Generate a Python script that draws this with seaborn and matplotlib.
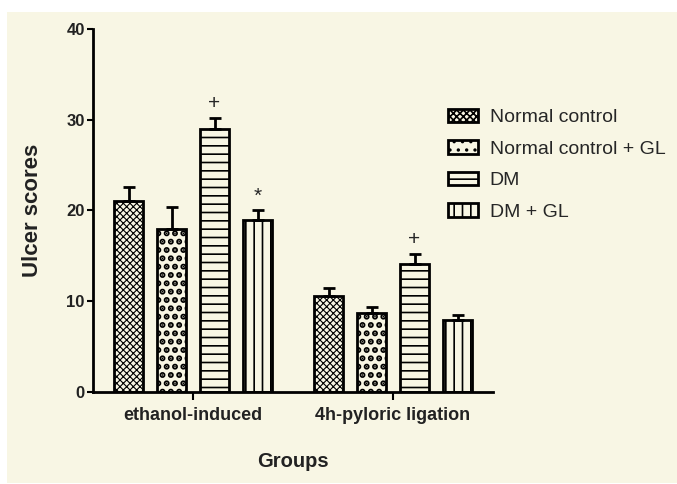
import pandas as pd
import matplotlib.pyplot as plt
from matplotlib.patches import Rectangle
import seaborn as sns

groups = ["ethanol-induced", "4h-pyloric ligation"]
treatments = ["Normal control", "Normal control + GL", "DM", "DM + GL"]

# mean ulcer score, one value per group
normal_control = [21.0, 10.6]
normal_control_gl = [18.0, 8.7]
dm = [29.0, 14.1]
dm_gl = [19.0, 7.9]

# upper error bar (SEM)
normal_control_err = [1.6, 0.9]
normal_control_gl_err = [2.4, 0.7]
dm_err = [1.2, 1.1]
dm_gl_err = [1.0, 0.6]

# significance marks: (group index, treatment index, symbol)
marks = [(0, 2, "+"), (0, 3, "*"), (1, 2, "+")]

means = [normal_control, normal_control_gl, dm, dm_gl]
errs = [normal_control_err, normal_control_gl_err, dm_err, dm_gl_err]

rows = []
for t, vals in zip(treatments, means):
    for g, v in zip(groups, vals):
        rows.append({"group": g, "treatment": t, "score": v})
df = pd.DataFrame(rows)

sns.set_style("ticks")
plt.rcParams["font.family"] = ["Liberation Sans", "DejaVu Sans"]
plt.rcParams["hatch.linewidth"] = 1.2

cream = "#F8F6E4"
fig = plt.figure(figsize=(6.77, 4.84), dpi=100, facecolor="white")
fig.patches.append(Rectangle((7 / 677, 1 / 484), 1 - 7 / 677, 471 / 484,
                             transform=fig.transFigure, facecolor=cream,
                             edgecolor="none", zorder=-10))
ax = fig.add_axes([93 / 677, 1 - 392 / 484, 400 / 677, 363 / 484])
ax.set_facecolor("none")

sns.barplot(data=df, x="group", y="score", hue="treatment", order=groups,
            hue_order=treatments, palette=[cream] * 4, saturation=1,
            errorbar=None, width=0.86, gap=0.33, edgecolor="black",
            linewidth=2, legend=False, ax=ax)
bars = list(ax.containers)

hatches = ["xxxxx", "..", "--", "||"]
hatch_widths = [0.8, 3.0, 1.2, 1.2]
for cont, h, hw, e in zip(bars, hatches, hatch_widths, errs):
    for patch, err in zip(cont.patches, e):
        patch.set_hatch(h)
        if hasattr(patch, "set_hatch_linewidth"):
            patch.set_hatch_linewidth(hw)
        x = patch.get_x() + patch.get_width() / 2
        top = patch.get_height()
        ax.errorbar(x, top, yerr=[[0], [err]], fmt="none", ecolor="black",
                    elinewidth=2, capsize=4.5, capthick=2, zorder=1)

for g, t, sym in marks:
    patch = bars[t].patches[g]
    x = patch.get_x() + patch.get_width() / 2
    y = patch.get_height() + errs[t][g] + 1.6
    ax.text(x, y, sym, ha="center", va="center", fontsize=15)

ax.set_xlim(-0.5, 1.5)
ax.set_ylim(0, 40)
ax.set_yticks([0, 10, 20, 30, 40])
sns.despine(ax=ax)
for s in ["left", "bottom"]:
    ax.spines[s].set_linewidth(2)
    ax.spines[s].set_color("black")
ax.tick_params(axis="y", length=4, width=1.5, pad=2, labelsize=12, colors="black")
ax.tick_params(axis="x", length=6, width=1.5, pad=5, labelsize=13, colors="black")
for lab in ax.get_xticklabels() + ax.get_yticklabels():
    lab.set_fontweight("bold")
    lab.set_color("#222222")

ax.set_ylabel("Ulcer scores", fontsize=16, fontweight="bold", color="#222222")
ax.set_xlabel("Groups", fontsize=14.5, fontweight="bold", color="#222222")
ax.yaxis.set_label_coords(-0.125, 0.5)
ax.xaxis.set_label_coords(0.5, -0.165)

ax.legend(handles=[c.patches[0] for c in bars], labels=treatments,
          loc="upper left", bbox_to_anchor=(448 / 677, 1 - 109 / 484),
          bbox_transform=fig.transFigure, frameon=False, fontsize=14,
          handlelength=1.55, handleheight=0.67, handletextpad=0.6,
          labelspacing=0.72, borderpad=0, borderaxespad=0)

fig.savefig("out.png", dpi=100)
